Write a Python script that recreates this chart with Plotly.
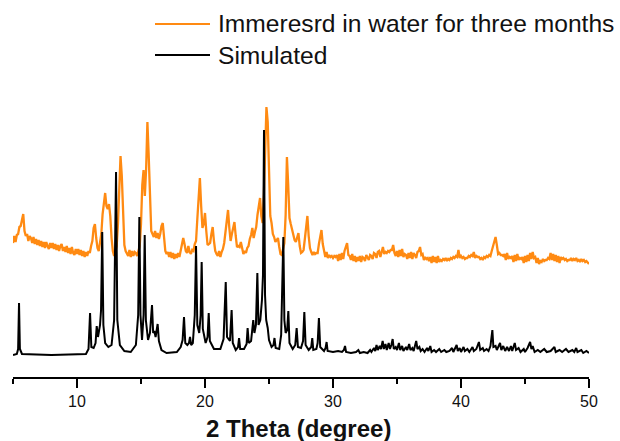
import numpy as np
import plotly.graph_objects as go

# ---------------- data ----------------
# Experimental pattern (immersed in water for three months), sampled every 0.1 deg from 5.0 to 50.0
exp_start = 5.0
exp_step = 0.1
exp_intensity = [
    112, 119, 113, 120, 121, 128, 129, 137, 141, 124,   # 5.x
    119, 121, 114, 119, 117, 112, 118, 111, 116, 110,   # 6.x
    115, 109, 114, 108, 113, 107, 113, 109, 106, 112,   # 7.x
    107, 112, 106, 111, 105, 110, 104, 109, 111, 104,   # 8.x
    108, 103, 109, 102, 107, 101, 108, 102, 100, 106,   # 9.x
    101, 106, 100, 105, 99, 104, 98, 103, 99, 104,      # 10.x
    102, 109, 114, 127, 131, 117, 107, 104, 111, 121,   # 11.x
    141, 154, 162, 149, 146, 151, 139, 117, 104, 99,    # 12.x
    105, 109, 131, 170, 199, 179, 134, 110, 104, 101,   # 13.x
    99, 105, 98, 104, 99, 103, 102, 99, 104, 109,       # 14.x
    131, 170, 185, 159, 186, 233, 200, 149, 124, 121,   # 15.x
    118, 124, 117, 122, 116, 121, 129, 132, 113, 104,   # 16.x
    101, 103, 98, 103, 97, 102, 96, 101, 97, 102,       # 17.x
    98, 104, 111, 117, 111, 104, 102, 109, 103, 101,    # 18.x
    105, 104, 111, 114, 136, 165, 177, 149, 127, 131,   # 19.x
    142, 124, 110, 111, 112, 121, 128, 114, 104, 101,   # 20.x
    99, 104, 98, 103, 106, 112, 125, 138, 145, 127,     # 21.x
    114, 121, 128, 133, 119, 108, 109, 108, 113, 106,   # 22.x
    101, 104, 102, 107, 109, 116, 120, 127, 117, 123,   # 23.x
    128, 140, 150, 157, 139, 132, 160, 215, 248, 233,   # 24.x
    180, 139, 132, 121, 118, 113, 115, 117, 108, 101,   # 25.x
    100, 105, 112, 140, 198, 170, 137, 131, 125, 121,   # 26.x
    115, 113, 117, 122, 109, 102, 103, 105, 116, 130,   # 27.x
    139, 119, 107, 103, 100, 103, 101, 102, 102, 111,   # 28.x
    117, 125, 111, 102, 98, 103, 97, 100, 98, 99,       # 29.x
    97, 99, 98, 100, 94, 101, 95, 102, 96, 104,         # 30.x
    108, 112, 100, 99, 95, 101, 94, 99, 93, 98,         # 31.x
    94, 99, 93, 98, 97, 94, 100, 98, 95, 100,           # 32.x
    99, 96, 102, 101, 97, 103, 104, 98, 103, 108,       # 33.x
    101, 103, 102, 104, 103, 105, 105, 110, 102, 99,    # 34.x
    104, 98, 105, 99, 106, 98, 101, 100, 96, 102,       # 35.x
    97, 103, 96, 102, 100, 97, 103, 104, 108, 100,      # 36.x
    101, 95, 98, 96, 97, 94, 98, 92, 99, 93,            # 37.x
    98, 92, 99, 93, 95, 94, 96, 95, 97, 94,             # 38.x
    96, 95, 97, 96, 98, 97, 99, 98, 105, 97,            # 39.x
    99, 97, 98, 96, 97, 97, 99, 98, 100, 99,            # 40.x
    103, 97, 99, 98, 98, 96, 97, 95, 98, 97,            # 41.x
    99, 98, 100, 99, 104, 108, 112, 118, 110, 101,      # 42.x
    102, 100, 100, 99, 101, 95, 102, 96, 98, 97,        # 43.x
    99, 93, 100, 94, 101, 95, 97, 96, 98, 92,           # 44.x
    99, 93, 100, 94, 102, 96, 103, 97, 98, 92,          # 45.x
    97, 91, 94, 93, 96, 94, 95, 95, 97, 96,             # 46.x
    102, 95, 101, 94, 100, 93, 99, 92, 98, 96,          # 47.x
    97, 95, 96, 94, 95, 95, 97, 94, 96, 95,             # 48.x
    97, 94, 95, 93, 96, 94, 95, 93, 94, 92,             # 49.x
    91,                                                 # 50.0
]
exp_two_theta = exp_start + exp_step * np.arange(len(exp_intensity))

# Simulated pattern: (2theta, intensity) points
sim_points = [
    (5.0, 0), (5.3, 1), (5.4, 6), (5.47, 52), (5.54, 6), (5.7, 1), (8.0, 0), (10.7, 1),
    (10.9, 6), (11.02, 42), (11.12, 8), (11.3, 7), (11.45, 12), (11.54, 29), (11.64, 18),
    (11.8, 30), (11.88, 45), (11.97, 123), (12.06, 30), (12.2, 12), (12.45, 8), (12.7, 10),
    (12.9, 35), (13.05, 183), (13.15, 35), (13.35, 10), (13.7, 4), (14.2, 3), (14.6, 10),
    (14.78, 40), (14.87, 138), (14.96, 40), (15.08, 15), (15.2, 40), (15.29, 120), (15.38, 35),
    (15.55, 15), (15.7, 22), (15.86, 50), (15.95, 22), (16.04, 24), (16.14, 18), (16.3, 31),
    (16.4, 14), (16.6, 5), (17.0, 2), (17.8, 3), (18.1, 8), (18.25, 15), (18.36, 38),
    (18.46, 12), (18.62, 10), (18.75, 12), (18.83, 18), (18.92, 10), (19.05, 12), (19.2, 40),
    (19.3, 109), (19.4, 30), (19.55, 22), (19.66, 40), (19.74, 93), (19.83, 26), (20.05, 12),
    (20.2, 18), (20.29, 42), (20.38, 14), (20.7, 6), (21.2, 6), (21.45, 16), (21.62, 73),
    (21.72, 18), (21.95, 14), (22.08, 45), (22.17, 12), (22.4, 5), (22.58, 8), (22.66, 17),
    (22.75, 6), (23.05, 6), (23.25, 11), (23.33, 27), (23.42, 12), (23.6, 14), (23.77, 35),
    (23.86, 22), (23.98, 30), (24.09, 82), (24.18, 30), (24.32, 35), (24.45, 55), (24.53, 80),
    (24.61, 225), (24.69, 60), (24.78, 35), (24.9, 27), (25.0, 15), (25.2, 8), (25.35, 10),
    (25.43, 17), (25.52, 7), (25.8, 6), (25.95, 20), (26.12, 118), (26.2, 35), (26.3, 22),
    (26.42, 25), (26.51, 44), (26.6, 12), (26.85, 6), (27.05, 10), (27.16, 27), (27.26, 8),
    (27.5, 7), (27.66, 14), (27.76, 43), (27.86, 10), (28.1, 5), (28.3, 8), (28.38, 17),
    (28.46, 5), (28.7, 6), (28.8, 12), (28.9, 37), (29.0, 8), (29.3, 4), (29.42, 7), (29.5, 13),
    (29.58, 4), (30.0, 3), (30.4, 4), (30.7, 3), (30.85, 5), (30.94, 9), (31.02, 3), (31.4, 2),
    (31.8, 3), (31.98, 5), (32.1, 2), (32.4, 3), (32.7, 2), (32.9, 5), (33.0, 3), (33.2, 7),
    (33.3, 4), (33.4, 10), (33.5, 5), (33.65, 9), (33.75, 6), (33.88, 14), (33.97, 6),
    (34.1, 11), (34.2, 5), (34.35, 12), (34.45, 6), (34.56, 10), (34.66, 16), (34.75, 6),
    (34.9, 8), (35.0, 5), (35.15, 12), (35.25, 5), (35.4, 9), (35.5, 4), (35.7, 8), (35.8, 5),
    (35.95, 11), (36.05, 5), (36.2, 7), (36.3, 4), (36.5, 14), (36.6, 6), (36.75, 8), (36.85, 4),
    (37.0, 6), (37.15, 3), (37.35, 7), (37.45, 4), (37.6, 9), (37.7, 3), (37.9, 5), (38.05, 3),
    (38.3, 6), (38.45, 3), (38.7, 5), (38.85, 3), (39.1, 4), (39.3, 7), (39.4, 3), (39.66, 10),
    (39.75, 4), (39.9, 7), (40.0, 3), (40.2, 8), (40.3, 4), (40.5, 6), (40.65, 3), (40.9, 8),
    (41.0, 4), (41.2, 6), (41.4, 13), (41.5, 5), (41.7, 7), (41.8, 4), (42.0, 6), (42.15, 4),
    (42.3, 9), (42.45, 25), (42.53, 8), (42.7, 9), (42.8, 5), (43.05, 12), (43.15, 5), (43.3, 9),
    (43.45, 4), (43.6, 8), (43.75, 4), (43.9, 9), (44.0, 4), (44.2, 12), (44.3, 5), (44.5, 7),
    (44.65, 3), (44.9, 6), (45.0, 3), (45.2, 7), (45.4, 13), (45.5, 6), (45.6, 9), (45.75, 3),
    (46.0, 5), (46.2, 3), (46.5, 6), (46.7, 3), (47.0, 4), (47.3, 8), (47.4, 3), (47.7, 5),
    (47.9, 3), (48.2, 6), (48.4, 3), (48.7, 5), (48.85, 3), (49.0, 7), (49.1, 3), (49.4, 5),
    (49.55, 2), (49.8, 4), (50.0, 2),
]
sim_two_theta = [p[0] for p in sim_points]
sim_intensity = [p[1] for p in sim_points]

series_names = ["Immeresrd in water for three months", "Simulated"]
series_colors = ["#ff8a12", "#000000"]
x_tick_values = [10, 20, 30, 40, 50]
x_title = "2 Theta (degree)"

# ---------------- figure ----------------
fig = go.Figure()
fig.add_trace(go.Scatter(x=exp_two_theta, y=exp_intensity, mode="lines",
                         name=series_names[0],
                         line=dict(color=series_colors[0], width=2.3)))
fig.add_trace(go.Scatter(x=sim_two_theta, y=sim_intensity, mode="lines",
                         name=series_names[1],
                         line=dict(color=series_colors[1], width=2)))

# Legend drawn with long line samples, as in the original
W, H = 620, 441
ml, mr, mt, mb = 13, 31, 80, 64
pw, ph = W - ml - mr, H - mt - mb

def px_to_paper_x(px):
    return (px - ml) / pw

def px_to_paper_y(py):
    return (H - mb - py) / ph

legend_rows = [24, 55]
for name, color, row in zip(series_names, series_colors, legend_rows):
    fig.add_shape(type="line", xref="paper", yref="paper",
                  x0=px_to_paper_x(155), x1=px_to_paper_x(210),
                  y0=px_to_paper_y(row), y1=px_to_paper_y(row),
                  line=dict(color=color, width=2))
    fig.add_annotation(text=name, xref="paper", yref="paper",
                       x=px_to_paper_x(216), y=px_to_paper_y(row),
                       xanchor="left", yanchor="middle", showarrow=False,
                       font=dict(size=24.6, color="#111111"))

# Axis title (placed as text below the tick labels)
fig.add_annotation(text="<b>" + x_title + "</b>", xref="paper", yref="paper",
                   x=px_to_paper_x(298), y=px_to_paper_y(428),
                   xanchor="center", yanchor="middle", showarrow=False,
                   font=dict(size=24, color="#111111"))

fig.update_layout(
    width=W, height=H,
    margin=dict(l=ml, r=mr, t=mt, b=mb, autoexpand=False),
    paper_bgcolor="white", plot_bgcolor="white",
    showlegend=False,
    font=dict(family="Liberation Sans, Arial, sans-serif", color="#111111"),
    xaxis=dict(
        range=[5, 50], tickvals=x_tick_values,
        showline=True, linecolor="black", linewidth=2,
        ticks="outside", ticklen=9, tickwidth=2, tickcolor="black",
        tickfont=dict(size=16),
        showgrid=False, zeroline=False, automargin=False,
        minor=dict(dtick=5, tick0=0, ticks="outside", ticklen=5,
                   tickwidth=2, tickcolor="black", showgrid=False),
    ),
    yaxis=dict(visible=False, range=[-22, 275]),
)

fig.write_html("out.html")
